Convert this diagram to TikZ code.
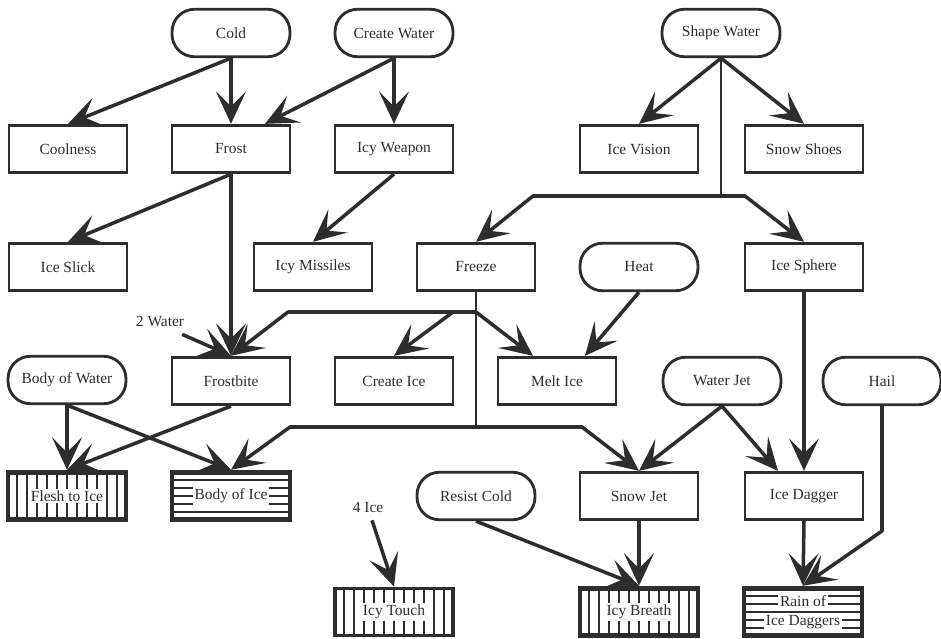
\documentclass[tikz,border=0pt]{standalone}
\usepackage{fontspec}
\setmainfont{Liberation Serif}
\usepackage{tikz}
\usetikzlibrary{arrows.meta,calc}
\definecolor{ink}{RGB}{45,45,45}
\newcommand{\icetext}[1]{{\setlength{\fboxsep}{1pt}\colorbox{white}{#1}}}
\tikzset{
  spell/.style={draw=ink, line width=1.6pt, minimum width=2.36cm, minimum height=0.95cm,
              inner sep=2pt, font=\fontsize{8.8}{10.8}\selectfont, text=ink, align=center},
  power/.style={spell, rounded corners=0.45cm},
  vhatch/.style={spell, line width=2.8pt, path picture={
      \foreach \k in {-50,-40,...,50}
        \draw[ink, line width=1pt] ($(path picture bounding box.north)+(\k,0)$)
                                -- ($(path picture bounding box.south)+(\k,0)$);}},
  hhatch/.style={spell, line width=2.8pt, path picture={
      \foreach \k in {-16,-8,...,16}
        \draw[ink, line width=1pt] ($(path picture bounding box.west)+(0,\k)$)
                                -- ($(path picture bounding box.east)+(0,\k)$);}},
  note/.style={font=\fontsize{8.8}{10.8}\selectfont, text=ink, inner sep=1pt},
  flow/.style={-{Stealth[length=6.5mm,width=6mm,inset=3mm]}, draw=ink, line width=2pt, line join=round},
  wire/.style={draw=ink, line width=1.6pt, line join=round},
}
\begin{document}
\begin{tikzpicture}[x=0.02cm, y=-0.02cm]
        \useasboundingbox (0,0) rectangle (941,639);
        % ===================== spells =====================
        \node[power] (cold)        at (231,33)  {Cold};
        \node[power] (createwater) at (394,33)  {Create Water};
        \node[power] (shapewater)  at (721,33)  {Shape Water};
        \node[spell] (coolness)    at (68,149)  {Coolness};
        \node[spell] (frost)       at (231,149) {Frost};
        \node[spell] (icyweapon)   at (394,149) {Icy Weapon};
        \node[spell] (icevision)   at (639,149) {Ice Vision};
        \node[spell] (snowshoes)   at (804,149) {Snow Shoes};
        \node[spell] (icyslick)    at (68,267)  {Ice Slick};
        \node[spell] (icymissiles) at (313,267) {Icy Missiles};
        \node[spell] (freeze)      at (476,267) {Freeze};
        \node[power] (heat)        at (639,267) {Heat};
        \node[spell] (icesphere)   at (804,267) {Ice Sphere};
        \node[power] (bodyofwater) at (67,380)  {Body of Water};
        \node[spell] (frostbite)   at (231,381) {Frostbite};
        \node[spell] (createice)   at (394,381) {Create Ice};
        \node[spell] (meltice)     at (557,381) {Melt Ice};
        \node[power] (waterjet)    at (722,381) {Water Jet};
        \node[power] (hail)        at (882,381) {Hail};
        \node[vhatch] (fleshtoice) at (67,496)  {\icetext{Flesh to Ice}};
        \node[hhatch] (bodyofice)  at (231,496) {\icetext{Body of Ice}};
        \node[power] (resistcold)  at (476,496) {Resist Cold};
        \node[spell] (snowjet)     at (639,496) {Snow Jet};
        \node[spell] (icedagger)   at (804,496) {Ice Dagger};
        \node[vhatch, line width=1.8pt] (icytouch) at (394,612) {\icetext{Icy Touch}};
        \node[vhatch] (icybreath)  at (639,612) {\icetext{Icy Breath}};
        \node[hhatch] (rain)       at (803,612) {\icetext{Rain of}\\\icetext{Ice Daggers}};
        \node[note] (water2) at (160,321) {2 Water};
        \node[note] (ice4)   at (368,507) {4 Ice};
        % ===================== junctions =====================
        \coordinate (swj)  at (721,196);
        \coordinate (swl)  at (533,196);
        \coordinate (swr)  at (745,196);
        \coordinate (fzA)  at (476,312);
        \coordinate (fzL)  at (288,312);
        \coordinate (fzC)  at (453,312);
        \coordinate (fzB)  at (476,427);
        \coordinate (fzBL) at (290,427);
        \coordinate (fzBR) at (582,427);
        \coordinate (hailbend) at (882,531);
        % ===================== top rows =====================
        \draw[flow] (cold.south) -- (coolness.north);
        \draw[flow] (cold.south) -- (frost.north);
        \draw[flow] (createwater.south) -- ($(frost.north)+(34,0)$);
        \draw[flow] (createwater.south) -- (icyweapon.north);
        \draw[flow] (frost.south) -- (icyslick.north);
        \draw[flow] (frost.south) -- (frostbite.north);
        \draw[flow] (icyweapon.south) -- (icymissiles.north);
        \draw[flow] (shapewater.south) -- (icevision.north);
        \draw[flow] (shapewater.south) -- (snowshoes.north);
        \draw[wire] (shapewater.south) -- (swj);
        \draw[flow] (swj) -- (swl) -- (freeze.north);
        \draw[flow] (swj) -- (swr) -- (icesphere.north);
        % ===================== freeze branches =====================
        \draw[wire] (freeze.south) -- (fzB);
        \draw[flow] (fzA) -- (fzL) -- (frostbite.north);
        \draw[flow] (fzC) -- (createice.north);
        \draw[flow] (fzA) -- ($(meltice.north)+(-24,0)$);
        \draw[flow] (fzB) -- (fzBL) -- (bodyofice.north);
        \draw[flow] (fzB) -- (fzBR) -- (snowjet.north);
        \draw[flow] (heat.south) -- ($(meltice.north)+(28,0)$);
        \draw[flow] ($(water2.south east)+(-4,6)$) -- (frostbite.north);
        % ===================== lower rows =====================
        \draw[flow] (bodyofwater.south) -- (fleshtoice.north);
        \draw[flow] (bodyofwater.south) -- (bodyofice.north);
        \draw[flow] (frostbite.south) -- (fleshtoice.north);
        \draw[flow] (waterjet.south) -- (snowjet.north);
        \draw[flow] (waterjet.south) -- ($(icedagger.north)+(-26,0)$);
        \draw[flow] (icesphere.south) -- (icedagger.north);
        \draw[flow] (hail.south) -- (hailbend) -- (rain.north);
        \draw[flow] (icedagger.south) -- (rain.north);
        \draw[flow] (snowjet.south) -- (icybreath.north);
        \draw[flow] (resistcold.south) -- (icybreath.north);
        \draw[flow] ($(ice4.south)+(4,6)$) -- (icytouch.north);
      \end{tikzpicture}
\end{document}
